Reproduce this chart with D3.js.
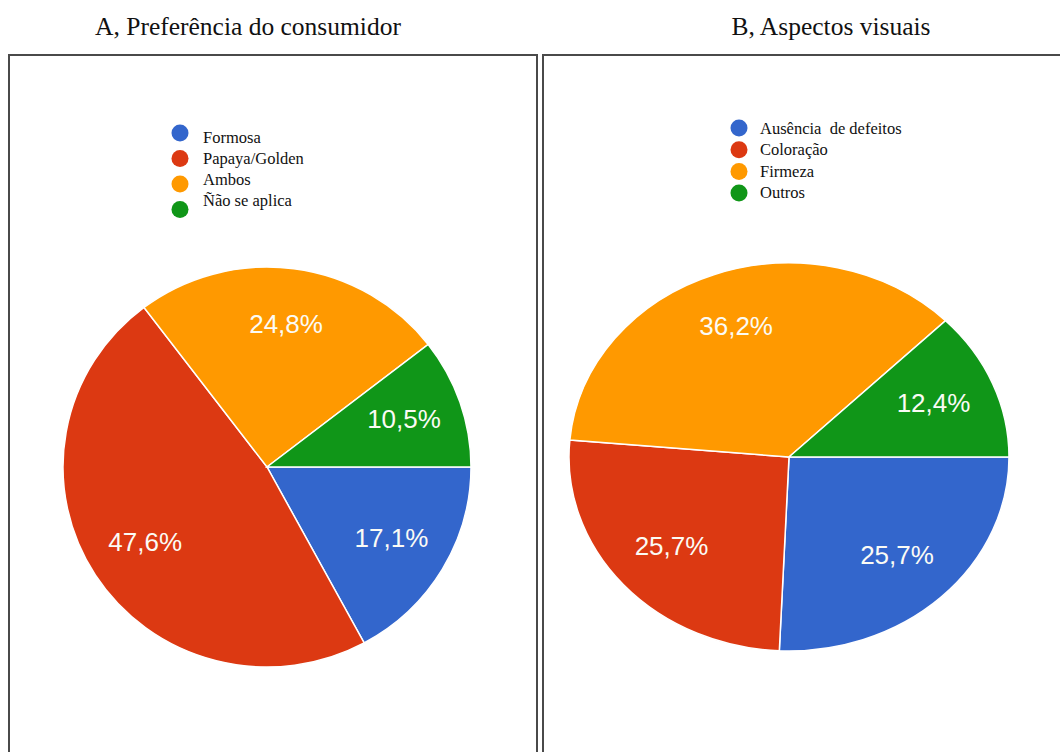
<!DOCTYPE html>
<html>
<head>
<meta charset="utf-8">
<script src="https://cdn.jsdelivr.net/npm/d3@7"></script>
<style>
  html, body { margin: 0; padding: 0; background: #fff; }
  svg { display: block; }
</style>
</head>
<body>
<svg id="chart" width="1060" height="752"></svg>
<script>
// ---- Data ----
const titleA = "A, Preferência do consumidor";
const categoriesA = ["Formosa", "Papaya/Golden", "Ambos", "Ñão se aplica"];
const valuesA = [17.1, 47.6, 24.8, 10.5];

const titleB = "B, Aspectos visuais";
const categoriesB = ["Ausência  de defeitos", "Coloração", "Firmeza", "Outros"];
const valuesB = [25.7, 25.7, 36.2, 12.4];

const colors = ["#3366cc", "#dc3912", "#ff9900", "#109618"];

// ---- Layout ----
const svg = d3.select("#chart");
const fmt = v => d3.format(".1f")(v).replace(".", ",") + "%";

const panels = [
  { title: titleA, cats: categoriesA, vals: valuesA, titleX: 248,
    box: [9, 55, 528, 720], cx: 267, cy: 467, rx: 204, ry: 200,
    legX: 180, dotY: 133, dotStep: 25.5, textY: 143, textStep: 21, textDx: 23 },
  { title: titleB, cats: categoriesB, vals: valuesB, titleX: 831,
    box: [543, 55, 540, 720], cx: 789, cy: 457, rx: 220, ry: 194,
    legX: 739, dotY: 128, dotStep: 21.7, textY: 134, textStep: 21.3, textDx: 21 }
];

panels.forEach(p => {
  // title
  svg.append("text")
    .attr("x", p.titleX).attr("y", 35)
    .attr("text-anchor", "middle")
    .style("font-family", "'Liberation Serif', 'Times New Roman', serif")
    .style("font-size", "25.5px")
    .style("fill", "#111")
    .text(p.title);

  // frame
  svg.append("rect")
    .attr("x", p.box[0]).attr("y", p.box[1])
    .attr("width", p.box[2]).attr("height", p.box[3])
    .attr("fill", "none")
    .attr("stroke", "#4a4a4a")
    .attr("stroke-width", 2);

  // pie
  const pie = d3.pie().sort(null).value(d => d)
    .startAngle(Math.PI / 2).endAngle(Math.PI / 2 + 2 * Math.PI);
  const arcs = pie(p.vals);
  const arc = d3.arc().innerRadius(0).outerRadius(p.ry);
  const sx = p.rx / p.ry;

  const g = svg.append("g")
    .attr("transform", `translate(${p.cx},${p.cy}) scale(${sx},1)`);
  g.selectAll("path").data(arcs).join("path")
    .attr("d", arc)
    .attr("fill", (d, i) => colors[i])
    .attr("stroke", "#fff")
    .attr("stroke-width", 1.5)
    .style("vector-effect", "non-scaling-stroke");

  const labelArc = d3.arc().innerRadius(p.ry * 0.71).outerRadius(p.ry * 0.71);
  svg.append("g")
    .attr("transform", `translate(${p.cx},${p.cy})`)
    .selectAll("text").data(arcs).join("text")
    .attr("x", d => labelArc.centroid(d)[0] * sx)
    .attr("y", d => labelArc.centroid(d)[1] - 2)
    .attr("dy", "0.35em")
    .attr("text-anchor", "middle")
    .style("font-family", "'Liberation Sans', Arial, sans-serif")
    .style("font-size", "26px")
    .style("fill", "#fbfbf5")
    .text(d => fmt(d.data));

  // legend
  const leg = svg.append("g");
  leg.selectAll("circle").data(p.cats).join("circle")
    .attr("cx", p.legX)
    .attr("cy", (d, i) => p.dotY + i * p.dotStep)
    .attr("r", 8.5)
    .attr("fill", (d, i) => colors[i]);
  leg.selectAll("text").data(p.cats).join("text")
    .attr("x", p.legX + p.textDx)
    .attr("y", (d, i) => p.textY + i * p.textStep)
    .attr("xml:space", "preserve")
    .style("white-space", "pre")
    .style("font-family", "'Liberation Serif', 'Times New Roman', serif")
    .style("font-size", "16.5px")
    .style("fill", "#111")
    .text(d => d);
});
</script>
</body>
</html>
